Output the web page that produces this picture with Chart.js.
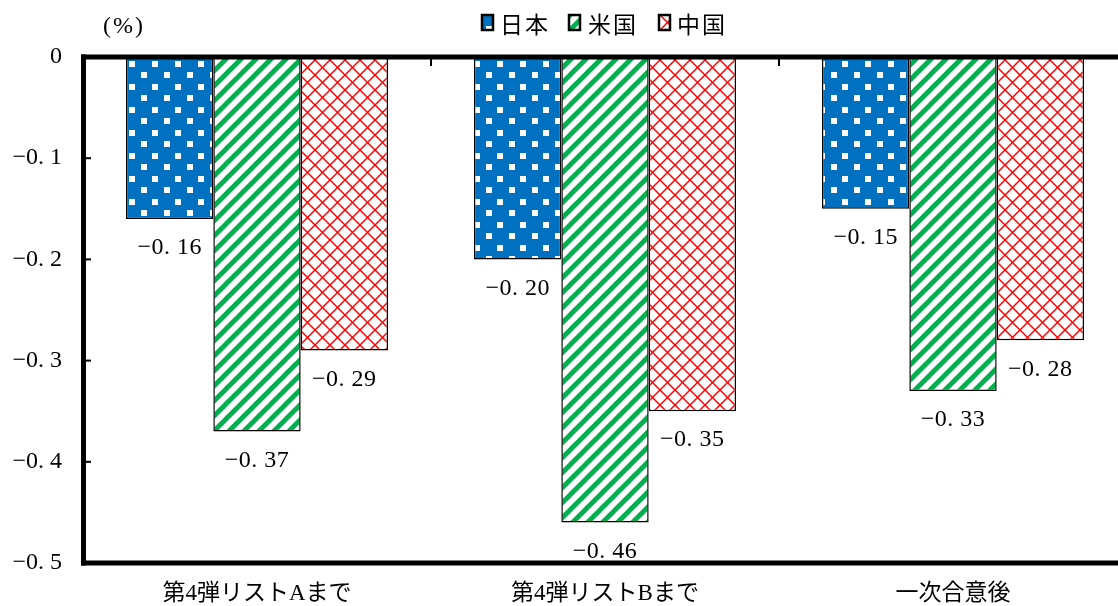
<!DOCTYPE html>
<html>
<head>
<meta charset="utf-8">
<script src="https://cdn.jsdelivr.net/npm/chart.js@4"></script>
<style>
html,body{margin:0;padding:0;overflow:hidden;background:#fff;}
#wrap{position:relative;width:1129px;height:606px;}
</style>
</head>
<body>
<div id="wrap"><canvas id="c"></canvas></div>
<script>
const categories = ['第4弾リストAまで', '第4弾リストBまで', '一次合意後'];
const seriesNames = ['日本', '米国', '中国'];
const japan = [-0.16, -0.20, -0.15];
const usa = [-0.37, -0.46, -0.33];
const china = [-0.29, -0.35, -0.28];
const yTicks = [0, -0.1, -0.2, -0.3, -0.4, -0.5];
const unitLabel = '(%)';

const SERIF = '"Liberation Serif", "Noto Sans CJK JP", serif';

function makePattern(size, drawFn) {
  const t = document.createElement('canvas');
  t.width = size; t.height = size;
  const g = t.getContext('2d');
  drawFn(g, size);
  return document.createElement('canvas').getContext('2d').createPattern(t, 'repeat');
}
const bluePat = makePattern(23, (g, s) => {
  g.fillStyle = '#0070C0'; g.fillRect(0, 0, s, s);
  g.fillStyle = '#ffffff';
  g.fillRect(3, 3, 6, 6);
  g.fillRect(14, 15, 6, 6);
});
const greenPat = makePattern(15, (g, s) => {
  g.fillStyle = '#ffffff'; g.fillRect(0, 0, s, s);
  g.strokeStyle = '#00B050'; g.lineWidth = 4.8;
  for (let k = -1; k <= 1; k++) {
    g.beginPath(); g.moveTo(k * s - 2, s + 2); g.lineTo(k * s + s + 2, -2); g.stroke();
  }
});
const redPat = makePattern(15, (g, s) => {
  g.fillStyle = '#ffffff'; g.fillRect(0, 0, s, s);
  g.strokeStyle = '#FF0000'; g.lineWidth = 1.5;
  g.beginPath(); g.moveTo(-2, -2); g.lineTo(s + 2, s + 2); g.stroke();
  g.beginPath(); g.moveTo(s + 2, -2); g.lineTo(-2, s + 2); g.stroke();
});
const patterns = [bluePat, greenPat, redPat];

function fmt(v) {
  if (Math.abs(v) < 1e-9) return '0';
  return '−' + Math.abs(v).toFixed(1).replace('.', '. ');
}
function fmtLabel(v) {
  return '−' + Math.abs(v).toFixed(2).replace('.', '. ');
}

const decor = {
  id: 'decor',
  afterDatasetsDraw(chart) {
    const ctx = chart.ctx;
    const ca = chart.chartArea;
    const x = chart.scales.x, y = chart.scales.y;
    ctx.save();
    ctx.font = '24px ' + SERIF;
    ctx.fillStyle = '#000';
    ctx.textAlign = 'center';
    ctx.textBaseline = 'middle';
    try { ctx.letterSpacing = '0.5px'; } catch (e) {}
    chart.data.datasets.forEach((ds, di) => {
      const meta = chart.getDatasetMeta(di);
      meta.data.forEach((bar, i) => {
        ctx.fillText(fmtLabel(ds.data[i]), bar.x, bar.y + 29);
      });
    });
    try { ctx.letterSpacing = '0px'; } catch (e) {}
    ctx.fillStyle = '#000';
    const y0 = y.getPixelForValue(0);
    const yb = y.getPixelForValue(-0.5);
    ctx.fillRect(ca.left - 2, y0 - 2.5, chart.width, 5);
    ctx.fillRect(ca.left - 2, yb - 2.5, chart.width, 5);
    ctx.fillRect(ca.left - 2, y0 - 2.5, 5, yb - y0 + 5);
    yTicks.forEach(v => {
      const py = y.getPixelForValue(v);
      ctx.fillRect(ca.left, py - 1, 8, 2);
    });
    for (let i = 1; i < categories.length; i++) {
      const px = (x.getPixelForValue(i - 1) + x.getPixelForValue(i)) / 2;
      ctx.fillRect(px - 1, y0, 2, 9);
    }
    ctx.restore();
  },
  afterDraw(chart) {
    const ctx = chart.ctx;
    ctx.save();
    ctx.fillStyle = '#000';
    ctx.textBaseline = 'middle';
    ctx.textAlign = 'center';
    ctx.font = '24px ' + SERIF;
    try { ctx.letterSpacing = '2px'; } catch (e) {}
    ctx.fillText(unitLabel, 124, 27);
    const items = [{bx: 482, tx: 500}, {bx: 569, tx: 588}, {bx: 659, tx: 677}];
    ctx.font = '23px "Noto Sans CJK JP", sans-serif';
    ctx.textAlign = 'left';
    items.forEach((it, i) => {
      ctx.fillStyle = patterns[i];
      ctx.fillRect(it.bx, 15, 11, 15);
      ctx.strokeStyle = '#000';
      ctx.lineWidth = 2.5;
      ctx.strokeRect(it.bx, 15, 11, 15);
      ctx.fillStyle = '#000';
      try { ctx.letterSpacing = '2px'; } catch (e) {}
      ctx.fillText(seriesNames[i], it.tx, 24);
    });
    ctx.restore();
  }
};

const datasets = [japan, usa, china].map((d, i) => ({
  label: seriesNames[i],
  data: d,
  backgroundColor: patterns[i],
  borderColor: '#000',
  borderWidth: 1.5,
  borderSkipped: 'start',
  categoryPercentage: 0.753,
  barPercentage: 1.0
}));

new Chart(document.getElementById('c'), {
  type: 'bar',
  data: { labels: categories, datasets },
  options: {
    responsive: true,
    maintainAspectRatio: false,
    animation: false,
    devicePixelRatio: 1,
    layout: { padding: { top: 57, right: 2, left: 0, bottom: 0 } },
    plugins: { legend: { display: false }, tooltip: { enabled: false } },
    scales: {
      x: {
        grid: { display: false, drawTicks: false },
        border: { display: false },
        ticks: { color: '#000', font: { size: 23, family: SERIF }, padding: 17, maxRotation: 0 },
        afterFit(s) { s.height = 43; }
      },
      y: {
        min: -0.5, max: 0,
        afterBuildTicks(s) { s.ticks = yTicks.map(v => ({ value: v })); },
        grid: { display: false, drawTicks: false },
        border: { display: false },
        ticks: { color: '#000', font: { size: 24, family: SERIF }, padding: 21, callback: v => fmt(v) },
        afterFit(s) { s.width = 83; }
      }
    }
  },
  plugins: [decor]
});
</script>
</body>
</html>
